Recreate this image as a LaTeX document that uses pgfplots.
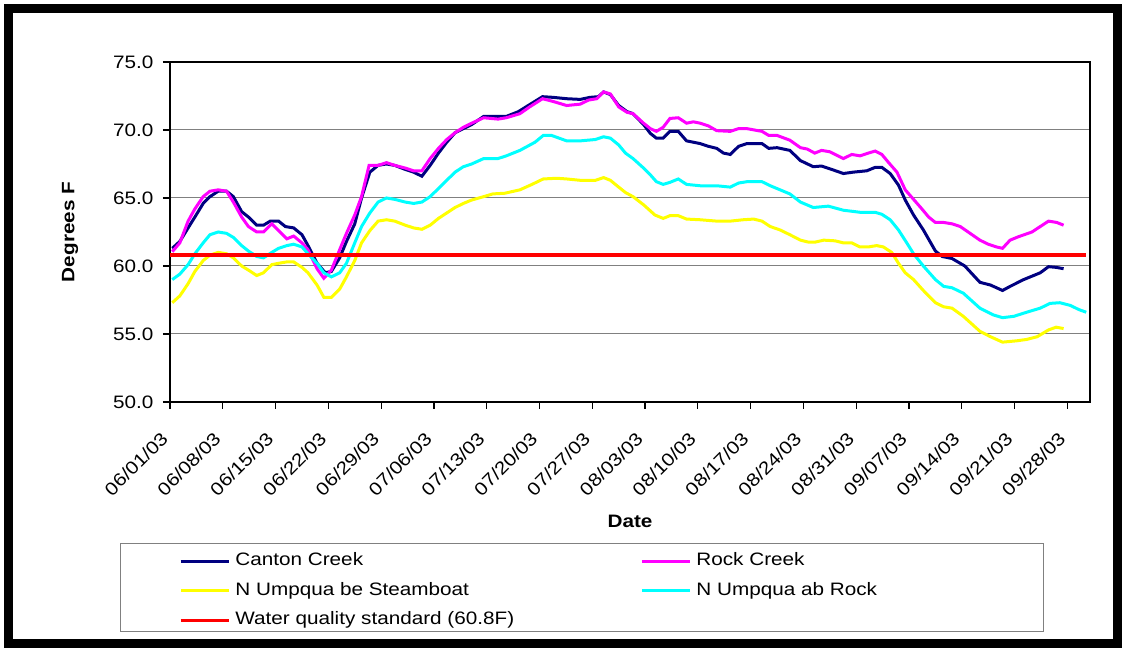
\documentclass[border=0pt]{standalone}
\usepackage{pgfplots}
\pgfplotsset{compat=1.18}
\usepackage{fontspec}
\setmainfont{Liberation Sans}[FakeStretch=1.15]
\definecolor{cNavy}{RGB}{0,0,128}
\definecolor{cMag}{RGB}{255,0,255}
\definecolor{cYel}{RGB}{255,255,0}
\definecolor{cCya}{RGB}{0,255,255}
\definecolor{cRed}{RGB}{255,0,0}
\definecolor{cGrid}{RGB}{128,128,128}
\newcommand{\cf}{\fontsize{18pt}{21pt}\selectfont}

\pgfplotstableread{
d v
0.3 61.3
1.3 61.8
2.4 62.8
3.3 63.6
4.4 64.6
5.3 65.1
6.4 65.5
7.5 65.5
8.4 65.1
9.5 64.0
10.4 63.6
11.5 63.0
12.4 63.0
13.3 63.3
14.4 63.3
15.3 62.9
16.4 62.8
17.5 62.3
18.3 61.5
19.5 60.2
20.6 59.5
21.4 59.6
22.5 60.6
23.4 61.8
24.5 63.1
25.4 65.0
26.5 66.9
27.6 67.4
28.7 67.5
29.8 67.4
31.2 67.1
32.3 66.9
33.4 66.6
34.5 67.4
35.6 68.3
36.7 69.1
37.8 69.8
38.9 70.1
40.0 70.4
41.6 71.0
43.5 71.0
44.6 71.0
46.2 71.35
47.5 71.8
49.4 72.45
50.8 72.4
52.6 72.3
54.4 72.25
55.7 72.4
56.8 72.45
57.5 72.8
58.4 72.6
59.5 71.8
60.6 71.35
61.4 71.2
62.8 70.4
63.7 69.75
64.5 69.4
65.4 69.4
66.3 69.9
67.4 69.9
68.5 69.2
70.3 69.0
71.4 68.8
72.5 68.65
73.4 68.3
74.3 68.2
75.4 68.8
76.5 69.0
78.5 69.0
79.4 68.65
80.5 68.7
82.2 68.5
83.6 67.75
85.3 67.3
86.4 67.35
88.0 67.05
89.3 66.8
90.6 66.9
92.4 67.0
93.5 67.25
94.4 67.25
95.5 66.8
96.6 65.95
97.5 64.85
98.6 63.75
99.9 62.65
101.5 61.1
102.4 60.7
103.7 60.55
105.4 60.0
107.4 58.8
108.8 58.6
110.4 58.2
111.4 58.5
113.2 59.0
115.4 59.5
116.5 59.95
117.5 59.9
118.5 59.8
}\canton

\pgfplotstableread{
d v
0.3 61.05
1.3 61.7
2.4 63.3
3.3 64.2
4.4 65.1
5.3 65.5
6.4 65.6
7.5 65.5
8.4 64.7
9.5 63.6
10.4 62.9
11.5 62.5
12.4 62.5
13.5 63.1
14.4 62.6
15.5 62.0
16.4 62.2
17.5 61.7
18.3 61.2
19.5 59.8
20.4 59.1
21.4 59.7
22.5 61.2
23.4 62.4
24.5 63.75
25.4 65.1
26.4 67.4
27.6 67.4
28.7 67.6
29.8 67.4
31.2 67.2
32.3 67.0
33.4 67.0
34.5 67.9
35.6 68.65
36.7 69.3
37.8 69.8
38.9 70.2
40.0 70.5
41.6 70.9
43.5 70.8
44.6 70.9
46.4 71.2
47.7 71.7
49.4 72.3
50.8 72.1
52.6 71.8
54.4 71.9
55.5 72.2
56.6 72.3
57.5 72.8
58.4 72.65
59.5 71.7
60.6 71.3
61.4 71.2
62.8 70.5
63.7 70.1
64.5 69.9
65.4 70.2
66.3 70.85
67.4 70.9
68.5 70.5
69.4 70.6
70.3 70.5
71.4 70.3
72.5 69.95
74.3 69.9
75.4 70.1
76.5 70.1
78.5 69.9
79.4 69.6
80.5 69.6
82.2 69.25
83.6 68.7
84.5 68.6
85.5 68.3
86.4 68.5
87.5 68.4
89.3 67.9
90.4 68.2
91.5 68.1
92.6 68.3
93.5 68.45
94.4 68.2
95.3 67.6
96.4 66.9
97.5 65.6
98.6 64.9
99.7 64.2
100.6 63.6
101.5 63.2
102.6 63.2
103.7 63.1
104.8 62.9
106.1 62.4
107.4 61.9
108.5 61.6
109.6 61.4
110.4 61.3
111.4 61.9
112.5 62.15
114.3 62.5
115.4 62.9
116.5 63.3
117.6 63.2
118.5 63.0
}\rock

\pgfplotstableread{
d v
0.3 57.3
1.3 57.8
2.4 58.7
3.3 59.6
4.4 60.4
5.3 60.8
6.4 61.0
7.5 60.9
8.4 60.6
9.5 60.0
10.4 59.7
11.5 59.3
12.4 59.5
13.5 60.1
14.4 60.2
15.5 60.3
16.4 60.3
17.5 59.9
18.3 59.5
19.5 58.6
20.4 57.7
21.4 57.7
22.5 58.3
23.4 59.2
24.5 60.4
25.4 61.7
26.5 62.6
27.6 63.3
28.7 63.4
29.8 63.3
31.2 63.0
32.3 62.8
33.4 62.7
34.5 63.0
35.6 63.5
36.7 63.9
37.8 64.3
38.9 64.6
40.0 64.85
41.6 65.1
42.8 65.3
44.4 65.35
46.4 65.6
48.0 66.0
49.5 66.4
51.3 66.45
52.6 66.4
54.4 66.3
56.4 66.3
57.5 66.5
58.4 66.3
59.5 65.8
60.4 65.4
61.4 65.1
62.8 64.5
64.3 63.75
65.4 63.5
66.3 63.7
67.4 63.7
68.5 63.45
70.3 63.4
72.5 63.3
74.3 63.3
76.0 63.4
77.4 63.45
78.5 63.3
79.6 62.9
80.9 62.65
82.2 62.3
83.6 61.9
84.7 61.75
85.5 61.75
86.7 61.9
88.2 61.85
89.3 61.7
90.4 61.7
91.5 61.4
92.6 61.4
93.7 61.5
94.6 61.4
95.7 61.0
96.6 60.2
97.5 59.5
98.6 59.0
99.9 58.2
101.5 57.3
102.6 57.0
103.7 56.9
105.2 56.3
107.4 55.2
108.8 54.8
110.4 54.4
112.3 54.5
113.6 54.6
115.0 54.8
116.5 55.3
117.5 55.5
118.5 55.4
}\steam

\pgfplotstableread{
d v
0.3 59.0
1.3 59.4
2.4 60.1
3.3 60.9
4.4 61.7
5.3 62.3
6.4 62.5
7.5 62.4
8.4 62.1
9.5 61.5
10.4 61.1
11.5 60.7
12.4 60.6
13.5 61.0
14.4 61.3
15.5 61.5
16.4 61.6
17.5 61.4
18.3 60.9
19.5 60.2
20.4 59.5
21.4 59.2
22.5 59.5
23.4 60.2
24.5 61.7
25.4 62.9
26.5 63.9
27.6 64.7
28.7 65.0
29.8 64.9
31.2 64.7
32.3 64.6
33.4 64.7
34.5 65.1
35.6 65.7
36.7 66.3
37.8 66.9
38.9 67.3
40.0 67.5
41.6 67.9
43.5 67.9
44.6 68.1
46.4 68.5
48.4 69.1
49.5 69.6
50.6 69.6
52.6 69.2
54.4 69.2
56.4 69.3
57.5 69.5
58.4 69.4
59.5 68.9
60.4 68.3
61.4 67.9
62.8 67.2
63.7 66.7
64.5 66.2
65.4 66.0
66.3 66.15
67.4 66.4
68.5 66.0
70.3 65.9
71.4 65.9
72.5 65.9
74.3 65.8
75.4 66.1
76.5 66.2
78.5 66.2
79.6 65.9
80.9 65.6
82.2 65.3
83.6 64.7
85.3 64.3
87.3 64.4
89.3 64.1
91.5 63.95
93.5 63.95
94.4 63.8
95.5 63.4
96.6 62.65
97.7 61.7
98.6 60.9
99.9 60.0
101.5 59.0
102.6 58.5
103.7 58.4
105.2 58.0
107.4 56.9
109.2 56.4
110.4 56.2
111.9 56.3
113.6 56.6
115.4 56.9
116.7 57.25
118.0 57.3
119.4 57.1
120.5 56.8
121.5 56.6
}\abrock

\pgfplotstableread{
d v
0.0 60.8
121.5 60.8
}\standard

\begin{document}
\begin{tikzpicture}
\useasboundingbox (0pt,0pt) rectangle (1122pt,652pt);
\draw[line width=8.5pt] (8.5pt,8.5pt) rectangle (1117.5pt,643.5pt);
\draw[cGrid, line width=1pt] (120pt,20pt) rectangle (1043pt,108pt);
\begin{axis}[
  at={(170pt,250pt)}, anchor=south west,
  scale only axis, width=920pt, height=340pt,
  xmin=0, xmax=122, ymin=50, ymax=75,
  xtick={0,7,...,119},
  xticklabels={06/01/03,06/08/03,06/15/03,06/22/03,06/29/03,07/06/03,07/13/03,07/20/03,07/27/03,08/03/03,08/10/03,08/17/03,08/24/03,08/31/03,09/07/03,09/14/03,09/21/03,09/28/03},
  ytick={50,55,...,75},
  yticklabel={\pgfmathprintnumber[fixed,fixed zerofill,precision=1,assume math mode=true]{\tick}},
  xtick pos=left, ytick pos=left,
  tick align=outside, major tick length=7pt,
  tick style={black, line width=1.2pt},
  axis line style={line width=2pt},
  ymajorgrids, grid style={cGrid, line width=1pt},
  every tick label/.append style={font=\cf},
  xticklabel shift=24pt,
  yticklabel shift=6pt,
  xticklabel style={xshift=-3pt, rotate=45, anchor=east},
  xlabel={\textbf{Date}}, ylabel={\textbf{Degrees F}},
  label style={font=\cf},
  xlabel style={at={(rel axis cs:0.5,-0.35)}, anchor=center},
  ylabel style={at={(rel axis cs:-0.1087,0.5)}, anchor=center},
  legend columns=2,
  legend cell align=left,
  legend style={draw=none, fill=none, inner sep=0pt, outer sep=0pt,
    at={(0.0097,-0.4438)}, anchor=north west,
    column sep=0pt, row sep=12.5pt,
    nodes={inner sep=0pt, text height=13pt, text depth=4pt, font=\cf}},
  legend image code/.code={\draw[#1] (0pt,0pt) -- (48pt,0pt); \path (53pt,0pt);},
]
\addplot[cNavy, line width=3pt] table[x=d,y=v] {\canton};
\addlegendentry{\makebox[405pt][l]{Canton Creek}}
\addplot[cMag, line width=3pt] table[x=d,y=v] {\rock};
\addlegendentry{Rock Creek}
\addplot[cYel, line width=3pt] table[x=d,y=v] {\steam};
\addlegendentry{\makebox[405pt][l]{N Umpqua be Steamboat}}
\addplot[cCya, line width=3pt] table[x=d,y=v] {\abrock};
\addlegendentry{N Umpqua ab Rock}
\addplot[cRed, line width=3.5pt] table[x=d,y=v] {\standard};
\addlegendentry{\makebox[405pt][l]{Water quality standard (60.8F)}}
\end{axis}
\end{tikzpicture}
\end{document}
